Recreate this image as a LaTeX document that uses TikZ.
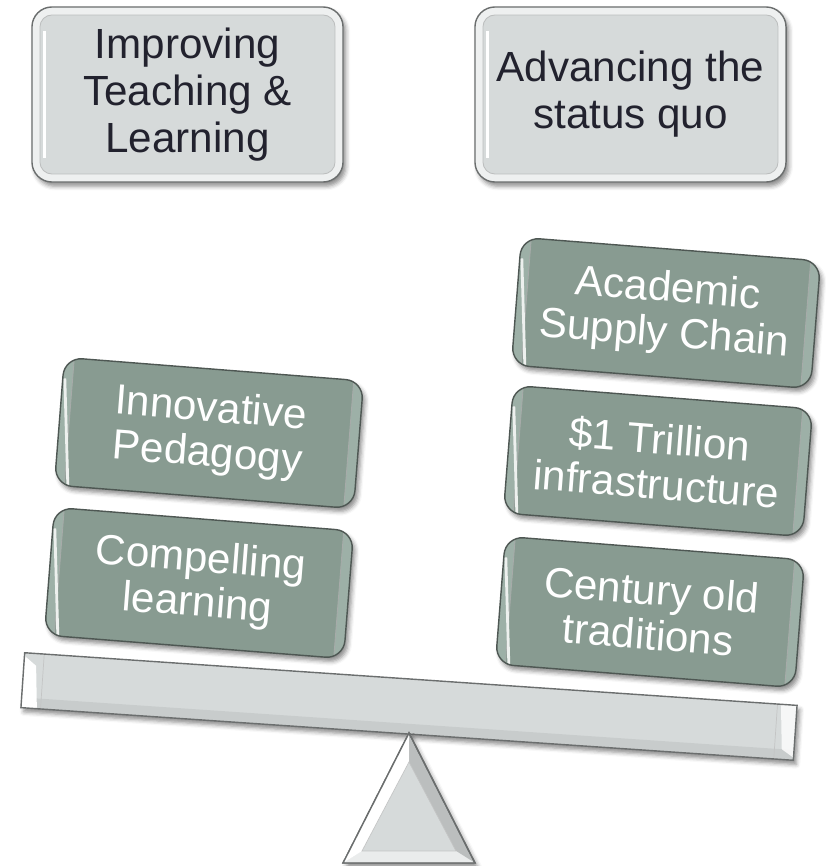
\documentclass[tikz,border=0pt]{standalone}
\usepackage{fontspec}
\setmainfont{Liberation Sans}
\usetikzlibrary{shadows.blur}
\definecolor{capgray}{HTML}{D6DADA}
\definecolor{capedge}{HTML}{6B6E6E}
\definecolor{sage}{HTML}{889B91}
\definecolor{sagelight}{HTML}{A3B6AD}
\definecolor{sageedge}{HTML}{4E5753}
\definecolor{inkdark}{HTML}{22222E}
\begin{document}
\begin{tikzpicture}[x=0.025cm, y=-0.025cm,
  soft/.style={blur shadow={shadow xshift=2pt, shadow yshift=-3pt, shadow blur radius=3pt, shadow opacity=45}},
  capbox/.style={rectangle, rounded corners=0.5cm, minimum width=7.775cm, minimum height=4.375cm,
    fill=capgray, draw=capedge, line width=1pt, text=inkdark, align=center,
    font=\fontsize{30}{33.5}\selectfont, soft,
    path picture={
      \draw[white, line width=0.4cm, rounded corners=0.5cm, opacity=.6]
        (path picture bounding box.south west) rectangle (path picture bounding box.north east);
      \draw[capedge!45, line width=.6pt, rounded corners=0.3cm]
        ([shift={(0.2cm,0.2cm)}]path picture bounding box.south west) rectangle
        ([shift={(-0.2cm,-0.2cm)}]path picture bounding box.north east);
      \draw[white, line width=2pt]
        ([shift={(0.32cm,0.6cm)}]path picture bounding box.south west) --
        ([shift={(0.32cm,-0.6cm)}]path picture bounding box.north west);}},
  panbox/.style={rectangle, rounded corners=0.45cm, minimum width=7.5cm, minimum height=3.2cm,
    fill=sage, draw=sageedge, line width=1pt, text=white, align=center,
    font=\fontsize{30}{32}\selectfont, soft, rotate=-4.5,
    path picture={
      \draw[sagelight, line width=0.4cm, rounded corners=0.45cm, opacity=.8]
        (path picture bounding box.south west) rectangle (path picture bounding box.north east);
      \draw[sageedge!50, line width=.6pt, rounded corners=0.28cm]
        ([shift={(0.2cm,0.2cm)}]path picture bounding box.south west) rectangle
        ([shift={(-0.2cm,-0.2cm)}]path picture bounding box.north east);
      \draw[white!85!sage, line width=2pt]
        ([shift={(0.3cm,0.5cm)}]path picture bounding box.south west) --
        ([shift={(0.3cm,-0.5cm)}]path picture bounding box.north west);}}]
\useasboundingbox (0,0) rectangle (825,866);

\node[capbox] (cap0) at (187.5,94.5) {Improving\\Teaching \&\\Learning};
\node[capbox] (cap1) at (630.5,94.5) {Advancing the\\status quo};

\node[panbox] (lhs1) at (209,433) {Innovative\\Pedagogy};
\node[panbox] (lhs0) at (199,583) {Compelling\\learning};
\node[panbox] (rhs2) at (666,313) {Academic\\Supply Chain};
\node[panbox] (rhs1) at (658,461) {\$1 Trillion\\infrastructure};
\node[panbox] (rhs0) at (650,612) {Century old\\traditions};

\node[rectangle, minimum width=19.35cm, minimum height=1.375cm, fill=capgray, draw=capedge,
  line width=1pt, soft, rotate=-3.9,
  path picture={
    \fill[white, opacity=.45] (path picture bounding box.north west) rectangle
      ([shift={(0cm,-0.3cm)}]path picture bounding box.north east);
    \fill[capedge, opacity=.12] (path picture bounding box.south west) rectangle
      ([shift={(0cm,0.25cm)}]path picture bounding box.south east);
    \fill[white] (path picture bounding box.south west) -- (path picture bounding box.north west)
      -- ([shift={(0.4cm,-0.3cm)}]path picture bounding box.north west)
      -- ([shift={(0.4cm,0.25cm)}]path picture bounding box.south west) -- cycle;
    \fill[white, opacity=.8] (path picture bounding box.south east) -- (path picture bounding box.north east)
      -- ([shift={(-0.4cm,-0.3cm)}]path picture bounding box.north east)
      -- ([shift={(-0.4cm,0.25cm)}]path picture bounding box.south east) -- cycle;
    \draw[capedge!40, line width=.5pt]
      ([shift={(0.4cm,0.25cm)}]path picture bounding box.south west) rectangle
      ([shift={(-0.4cm,-0.3cm)}]path picture bounding box.north east);}] (beam) at (409,706.5) {};

\coordinate (apex) at (409,733);
\coordinate (footl) at (343,863);
\coordinate (footr) at (475,863);
\coordinate (apexin) at (409,762);
\coordinate (footlin) at (362,851);
\coordinate (footrin) at (456,851);
\filldraw[fill=capgray, draw=capedge, line width=1pt, soft] (apex) -- (footr) -- (footl) -- cycle;
\fill[white] (apex) -- (apexin) -- (footlin) -- (footl) -- cycle;
\fill[capedge, opacity=.25] (apex) -- (footr) -- (footrin) -- (apexin) -- cycle;
\fill[white, opacity=.5] (footl) -- (footlin) -- (footrin) -- (footr) -- cycle;
\draw[capedge!40, line width=.5pt] (apexin) -- (footrin) -- (footlin) -- cycle;
\draw[capedge, line width=1pt] (apex) -- (footr) -- (footl) -- cycle;
\end{tikzpicture}
\end{document}
